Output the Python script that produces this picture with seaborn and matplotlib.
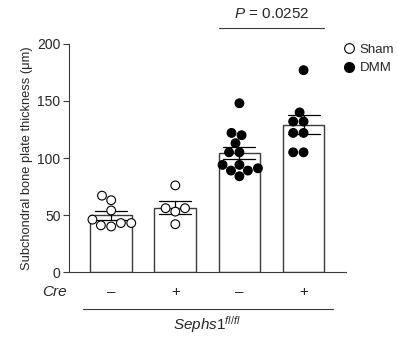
import matplotlib
matplotlib.use("Agg")
import matplotlib.lines as mlines
import matplotlib.pyplot as plt
import pandas as pd
import seaborn as sns

# values (um)
GROUPS = ["Sham Cre-", "Sham Cre+", "DMM Cre-", "DMM Cre+"]
SURGERY = ["Sham", "Sham", "DMM", "DMM"]
CRE_SIGNS = ["\u2013", "+", "\u2013", "+"]
VALUES = [
    [63, 67, 54, 46, 40, 43, 41, 43],
    [76, 56, 53, 56, 42],
    [148, 122, 120, 113, 105, 105, 94, 91, 89, 89, 94, 84],
    [177, 140, 132, 132, 122, 122, 105, 105],
]
P_TEXT = "0.0252"

rows = []
for g, s, vals in zip(GROUPS, SURGERY, VALUES):
    for v in vals:
        rows.append({"group": g, "surgery": s, "value": v})
df = pd.DataFrame(rows)

sns.set_theme(style="ticks")
plt.rcParams["font.family"] = ["Liberation Sans", "DejaVu Sans"]
plt.rcParams["mathtext.fontset"] = "custom"
plt.rcParams["mathtext.rm"] = "Liberation Sans"
plt.rcParams["mathtext.it"] = "Liberation Sans:italic"

EDGE = "#3a3a3a"

fig = plt.figure(figsize=(3.98, 3.38), dpi=100)
ax = fig.add_axes([0.173, 0.195, 0.696, 0.675])

sns.barplot(
    data=df, x="group", y="value", order=GROUPS,
    color="white", edgecolor=EDGE, linewidth=1.0, width=0.65,
    errorbar="se", capsize=0.5,
    err_kws={"color": "black", "linewidth": 0.9},
    ax=ax,
)
sns.swarmplot(
    data=df, x="group", y="value", order=GROUPS,
    hue="surgery", palette={"Sham": "white", "DMM": "black"},
    edgecolor="black", linewidth=0.8, size=6.3,
    legend=False, ax=ax, zorder=3,
)

ax.set_ylim(0, 200)
ax.set_xlim(-0.66, 3.66)
ax.set_yticks([0, 50, 100, 150, 200])
ax.tick_params(axis="y", labelsize=10, length=4, width=0.8, color=EDGE, pad=2)
ax.tick_params(axis="x", bottom=False, labelbottom=False)
ax.set_xlabel("")
ax.set_ylabel("Subchondral bone plate thickness (\u03bcm)", fontsize=9.3, labelpad=3)
for side in ["top", "right"]:
    ax.spines[side].set_visible(False)
for side in ["left", "bottom"]:
    ax.spines[side].set_color(EDGE)
    ax.spines[side].set_linewidth(0.8)

# significance bracket
ax.plot([1.675, 3.325], [214, 214], color=EDGE, linewidth=0.8, clip_on=False)
ax.text(2.5, 226, r"$P$ = " + P_TEXT, ha="center", va="center", fontsize=11)

# genotype rows under the axis
trans = ax.get_xaxis_transform()
ax.text(-0.69, -0.088, "Cre", style="italic", ha="right", va="center",
        fontsize=11, transform=trans)
for i, sign in enumerate(CRE_SIGNS):
    ax.text(i, -0.088, sign, ha="center", va="center", fontsize=11, transform=trans)
ax.plot([-0.44, 3.46], [-0.162, -0.162], color=EDGE, linewidth=0.8,
        transform=trans, clip_on=False)
ax.text(1.5, -0.232, r"$\mathit{Sephs1}^{\mathit{fl/fl}}$", ha="center", va="center",
        fontsize=11, transform=trans)

handles = [
    mlines.Line2D([], [], linestyle="none", marker="o", markersize=7,
                  markerfacecolor="white", markeredgecolor="black",
                  markeredgewidth=0.8, label="Sham"),
    mlines.Line2D([], [], linestyle="none", marker="o", markersize=7,
                  markerfacecolor="black", markeredgecolor="black", label="DMM"),
]
fig.legend(handles=handles, loc="upper left", bbox_to_anchor=(0.861, 0.872),
           frameon=False, fontsize=9.5, handlelength=1.0, handletextpad=0.3,
           borderpad=0, borderaxespad=0, labelspacing=0.5)

fig.savefig("out.png", dpi=100)
